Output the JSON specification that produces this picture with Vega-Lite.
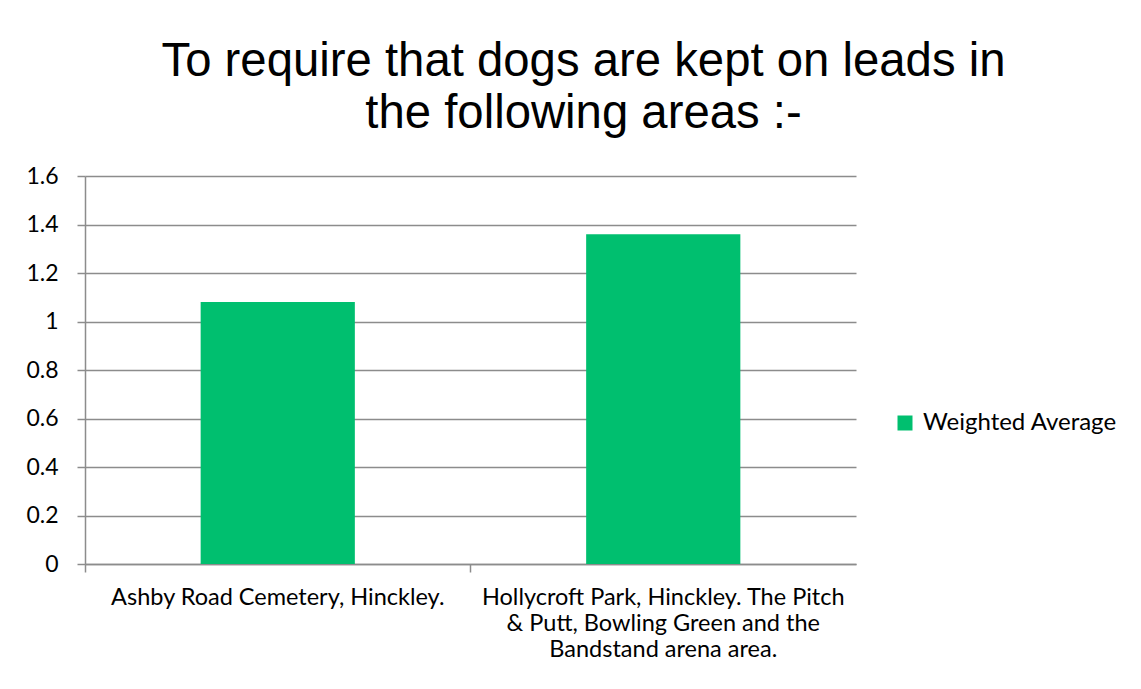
{
  "$schema": "https://vega.github.io/schema/vega-lite/v6.json",
  "autosize": {"type": "none"},
  "width": 771,
  "height": 388,
  "padding": {"left": 85, "top": 176, "right": 285, "bottom": 125},
  "background": "white",
  "title": {
    "text": ["To require that dogs are kept on leads in", "the following areas :-"],
    "font": "Liberation Sans",
    "fontSize": 47.3,
    "fontWeight": "normal",
    "color": "#000000",
    "lineHeight": 52,
    "anchor": "middle",
    "frame": "group",
    "dx": 113,
    "offset": 27
  },
  "data": {
    "values": [
      {"area": "Ashby Road Cemetery, Hinckley.", "series": "Weighted Average", "value": 1.08},
      {"area": "Hollycroft Park, Hinckley. The Pitch & Putt, Bowling Green and the Bandstand arena area.", "series": "Weighted Average", "value": 1.36}
    ]
  },
  "mark": {"type": "bar", "width": {"band": 0.4}},
  "encoding": {
    "x": {
      "field": "area",
      "type": "nominal",
      "sort": null,
      "title": null,
      "scale": {"paddingInner": 0, "paddingOuter": 0},
      "axis": {
        "labelAngle": 0,
        "bandPosition": 0,
        "labelExpr": "indexof(datum.label, 'Hollycroft') >= 0 ? ['Hollycroft Park, Hinckley. The Pitch', '& Putt, Bowling Green and the', 'Bandstand arena area.'] : datum.label",
        "labelFont": "Lato",
        "labelFontSize": 23.5,
        "labelColor": "#000000",
        "labelLineHeight": 26,
        "labelPadding": 13,
        "labelLimit": 0,
        "domainColor": "#8c8c8c",
        "domainWidth": 1.5,
        "tickColor": "#8c8c8c",
        "tickWidth": 1.5,
        "tickSize": 8,
        "grid": false
      }
    },
    "y": {
      "field": "value",
      "type": "quantitative",
      "title": null,
      "scale": {"domain": [0, 1.6], "nice": false},
      "axis": {
        "values": [0, 0.2, 0.4, 0.6, 0.8, 1, 1.2, 1.4, 1.6],
        "format": "~g",
        "labelFont": "Lato",
        "labelFontSize": 23,
        "labelColor": "#000000",
        "labelPadding": 19,
        "domainColor": "#8c8c8c",
        "domainWidth": 1.5,
        "tickColor": "#8c8c8c",
        "tickWidth": 1.5,
        "tickSize": 8,
        "grid": true,
        "gridColor": "#8c8c8c",
        "gridWidth": 1.5
      }
    },
    "color": {
      "field": "series",
      "type": "nominal",
      "scale": {"range": ["#00BF6F"]},
      "legend": {
        "title": null,
        "orient": "none",
        "legendX": 808,
        "legendY": 235,
        "symbolType": "square",
        "symbolSize": 225,
        "symbolStrokeWidth": 0,
        "labelFont": "Lato",
        "labelFontSize": 24,
        "labelColor": "#000000",
        "labelOffset": 6,
        "labelLimit": 0,
        "padding": 0
      }
    }
  },
  "config": {
    "view": {"stroke": null}
  }
}
